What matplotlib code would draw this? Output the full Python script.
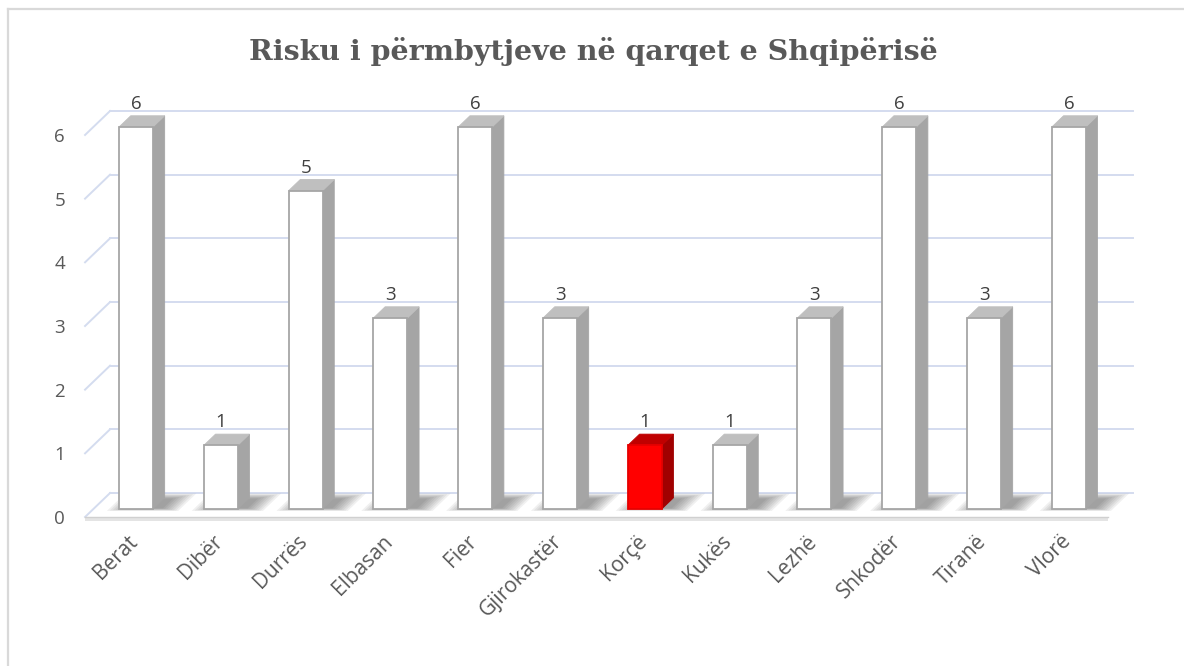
import matplotlib
matplotlib.use("Agg")
import matplotlib.pyplot as plt
from matplotlib.patches import Polygon
from matplotlib.lines import Line2D

# ---- data ----
categories = ["Berat", "Dibër", "Durrës", "Elbasan", "Fier", "Gjirokastër",
              "Korçë", "Kukës", "Lezhë", "Shkodër", "Tiranë", "Vlorë"]
values = [6, 1, 5, 3, 6, 3, 1, 1, 3, 6, 3, 6]
highlight = "Korçë"
yticks = [0, 1, 2, 3, 4, 5, 6]
title = "Risku i përmbytjeve në qarqet e Shqipërisë"

# ---- layout (pixel mapping) ----
W, H = 1184, 666
X0, SX = 127.7, 84.8      # px of category 0 at floor front, px per category
Y0, SY = 517.0, 63.67     # px of value 0 at floor front, px per unit
DX, DY = 25 / SX, 24 / SY  # depth offsets (full depth) in data units
ZF, ZB = 1 / 3, 0.80      # bar front / back depth
BW = 0.40
XL, XR = -0.503, 11.56

fig = plt.figure(figsize=(W / 100, H / 100), dpi=100)
ax = fig.add_axes([0, 0, 1, 1])
ax.set_xlim(-X0 / SX, (W - X0) / SX)
ax.set_ylim((Y0 - H) / SY, Y0 / SY)
ax.axis("off")


def P(x, y, z):
    return (x + z * DX, y + z * DY)


def poly(pts, **kw):
    ax.add_patch(Polygon([P(*p) for p in pts], closed=True, **kw))


grid_c = "#d4dcef"
# back wall gridlines and side wall diagonals
for k in yticks:
    a, b = P(XL, k, 1), P(XR, k, 1)
    ax.add_line(Line2D([a[0], b[0]], [a[1], b[1]], color=grid_c, lw=1.4, zorder=1))
    c = P(XL, k, 0)
    ax.add_line(Line2D([c[0], a[0]], [c[1], a[1]], color=grid_c, lw=1.4, zorder=1))

# floor front strip
fthick = 4 / SY
ax.add_patch(Polygon([P(XL, 0, 0), P(XR, 0, 0), (XR, -fthick), (XL, -fthick)],
                     closed=True, facecolor="#e4e4e4", edgecolor="none", zorder=2))
ax.add_line(Line2D([XL, XR], [0, 0], color="#d0d0d0", lw=1.0, zorder=2))

# soft shadows on the floor
for i, v in enumerate(values):
    for s in range(8):
        g = s * 0.03
        poly([(i - BW / 2 - 0.12 + g, 0, ZF - 0.08 + g * 0.5),
              (i + BW / 2 + 0.32 - g, 0, ZF - 0.08 + g * 0.5),
              (i + BW / 2 + 0.32 - g, 0, 0.98 - g),
              (i - BW / 2 - 0.12 + g, 0, 0.98 - g)],
             facecolor="#3a3a3a", edgecolor="none", alpha=0.075, zorder=3)

# bars
for i, (cat, v) in enumerate(zip(categories, values)):
    if cat == highlight:
        fc, ec, tc, sc = "#ff0000", "#e60000", "#c00000", "#a00000"
    else:
        fc, ec, tc, sc = "#ffffff", "#a6a6a6", "#bfbfbf", "#a5a5a5"
    l, r = i - BW / 2, i + BW / 2
    poly([(r, 0, ZF), (r, 0, ZB), (r, v, ZB), (r, v, ZF)],
         facecolor=sc, edgecolor=sc, lw=0.6, zorder=4)
    poly([(l, v, ZF), (r, v, ZF), (r, v, ZB), (l, v, ZB)],
         facecolor=tc, edgecolor=tc, lw=0.6, zorder=4)
    poly([(l, 0, ZF), (r, 0, ZF), (r, v, ZF), (l, v, ZF)],
         facecolor=fc, edgecolor=ec, lw=1.3, zorder=5)
    tx, ty = P(i, v, ZB)
    ax.annotate(str(v), (i + ZF * DX, ty), xytext=(0, 2), textcoords="offset points",
                ha="center", va="bottom", fontsize=13.5, color="#404040",
                family="Open Sans", zorder=6)
    ax.text(i + ZF * DX - 0.10, -14 / SY, cat, rotation=45, rotation_mode="anchor",
            ha="right", va="top", fontsize=15, color="#595959", family="Open Sans")

# y tick labels
for k in yticks:
    ax.text((65 - X0) / SX, k - 2 / SY, str(k), ha="right", va="center",
            fontsize=13.5, color="#595959", family="Open Sans")

# title
fig.text(593 / W, 1 - 51 / H, title, ha="center", va="center", fontsize=20.5,
         fontweight="bold", color="#595959", family="DejaVu Serif")

# partial border (top and left)
fig.add_artist(Line2D([8 / W, 8 / W], [0, 1 - 9 / H], transform=fig.transFigure,
                      color="#d9d9d9", lw=1.6))
fig.add_artist(Line2D([8 / W, 1], [1 - 9 / H, 1 - 9 / H], transform=fig.transFigure,
                      color="#d9d9d9", lw=1.6))

fig.savefig("out.png", dpi=100)
